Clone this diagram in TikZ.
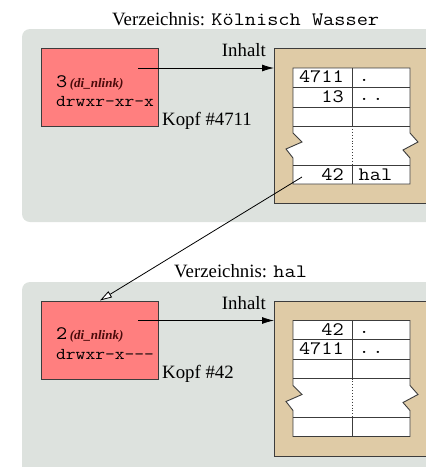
\documentclass[tikz,border=0pt]{standalone}
\usepackage{fontspec}
\setmainfont{Liberation Serif}
\setmonofont{Latin Modern Mono}[FakeStretch=1.143]
\usetikzlibrary{arrows.meta}
\definecolor{panel}{HTML}{DDE2DE}
\definecolor{kopf}{HTML}{FF7F7F}
\definecolor{inhalt}{HTML}{DFCBA6}
\definecolor{edge}{HTML}{3C3C3C}
\definecolor{nlink}{HTML}{4A0A0A}
\newcommand{\rmbig}{\fontsize{18.8}{21}\selectfont}
\newcommand{\ttbig}{\ttfamily\fontsize{19}{21}\selectfont}
\newcommand{\ttmid}{\ttfamily\fontsize{16.6}{19}\selectfont}
\newcommand{\nlinkfont}{\color{nlink}\fontsize{13}{15}\selectfont\bfseries\itshape}
\begin{document}
\begin{tikzpicture}[x=1pt,y=-1pt,
  panelbox/.style={fill=panel, rounded corners=8pt},
  kopfbox/.style={draw=edge, fill=kopf, line width=0.8pt, minimum width=117pt, minimum height=78pt, inner sep=0pt, anchor=north west},
  inhaltbox/.style={draw=edge, fill=inhalt, line width=0.8pt, minimum width=170pt, minimum height=155pt, inner sep=0pt, anchor=north west},
  tabline/.style={draw=edge, line width=0.9pt},
  lbl/.style={inner sep=0pt, anchor=base west, font=\rmbig},
  cellL/.style={inner sep=0pt, anchor=base east, font=\ttbig},
  cellR/.style={inner sep=0pt, anchor=base west, font=\ttbig},
  conn/.style={draw=black, line width=0.8pt},
  filledarrow/.style={-{Latex[length=12pt,width=7pt]}},
  openarrow/.style={-{Triangle[length=12pt,width=7pt,fill=white]}}
]
\clip (0,0) rectangle (426,467);
\useasboundingbox (0,0) rectangle (426,467);

% ---------- panel 1 ----------
\fill[panelbox] (22,29) rectangle (460,222);
\node[lbl] (title1) at (112,25) {Verzeichnis: {\ttbig Kölnisch Wasser}};
\node[kopfbox] (kopf1) at (41,48) {};
\node[inhaltbox] (inhalt1) at (274,48) {};
\node[lbl, anchor=base east] (inhaltlbl1) at (266,56.5) {Inhalt};
\node[lbl] (nlink1) at (56,87) {{\ttbig 3}\hspace{2.5pt}{\nlinkfont (di\_nlink)}};
\node[lbl, font=\ttmid] (mode1) at (56,106.5) {drwxr-xr-x};
\node[lbl] (kopflbl1) at (162,125.5) {Kopf \#4711};

\begin{scope}
\path[fill=white, tabline] (293,68) -- (410,68) -- (410,133) -- (418,142) -- (403,150) -- (410,158)
  -- (410,184) -- (293,184) -- (293,158) -- (286,149) -- (302,142) -- (293,133) -- cycle;
\draw[tabline] (293,87) -- (410,87) (293,107) -- (410,107) (293,126) -- (410,126) (293,165) -- (410,165);
\draw[tabline] (352,68) -- (352,126) (352,165) -- (352,184);
\draw[edge, line width=0.9pt, dotted] (352,126) -- (352,165);
\end{scope}
\node[cellL] (a1) at (344,82.7) {4711};
\node[cellR] (b1) at (358.5,81) {.};
\node[cellL] (a2) at (344,102.3) {13};
\node[cellR] (b2) at (358.5,100.5) {.\kern2.6pt.};
\node[cellL] (a5) at (344,180.8) {42};
\node[cellR] (b5) at (358.5,180.8) {hal};

\coordinate (in1s) at (138,68);
\draw[conn, filledarrow] (in1s) -- (inhalt1.west |- in1s);

% ---------- panel 2 ----------
\fill[panelbox] (22,282) rectangle (460,500);
\node[lbl] (title2) at (174,277) {Verzeichnis: {\ttbig hal}};
\node[kopfbox] (kopf2) at (41,301) {};
\node[inhaltbox] (inhalt2) at (274,301) {};
\node[lbl, anchor=base east] (inhaltlbl2) at (266,309) {Inhalt};
\node[lbl] (nlink2) at (56,339.5) {{\ttbig 2}\hspace{2.5pt}{\nlinkfont (di\_nlink)}};
\node[lbl, font=\ttmid] (mode2) at (56,359) {drwxr-x---};
\node[lbl] (kopflbl2) at (162,378) {Kopf \#42};

\begin{scope}[shift={(0,252.5)}]
\path[fill=white, tabline] (293,68) -- (410,68) -- (410,133) -- (418,142) -- (403,150) -- (410,158)
  -- (410,184) -- (293,184) -- (293,158) -- (286,149) -- (302,142) -- (293,133) -- cycle;
\draw[tabline] (293,87) -- (410,87) (293,107) -- (410,107) (293,126) -- (410,126) (293,165) -- (410,165);
\draw[tabline] (352,68) -- (352,126) (352,165) -- (352,184);
\draw[edge, line width=0.9pt, dotted] (352,126) -- (352,165);
\end{scope}
\node[cellL] (c1) at (344,335.2) {42};
\node[cellR] (d1) at (358.5,333.5) {.};
\node[cellL] (c2) at (344,354.8) {4711};
\node[cellR] (d2) at (358.5,353) {.\kern2.6pt.};

\coordinate (in2s) at (138,320.5);
\draw[conn, filledarrow] (in2s) -- (inhalt2.west |- in2s);

% ---------- link from entry "hal" to directory hal ----------
\coordinate (halsrc) at (302,177);
\coordinate (haldst) at (100,300.5);
\draw[conn, openarrow] (halsrc) -- (haldst);
\end{tikzpicture}
\end{document}
